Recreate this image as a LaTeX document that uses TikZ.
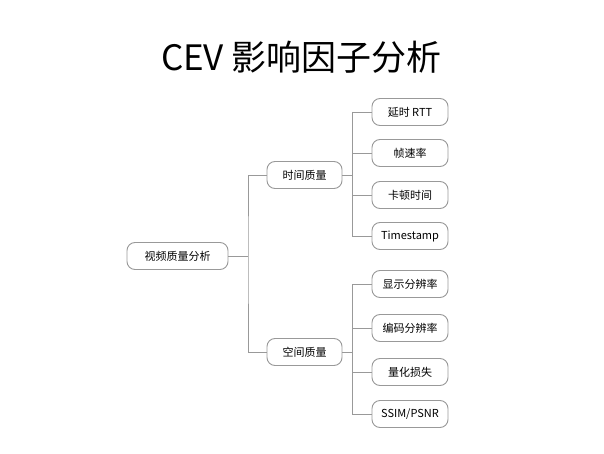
\documentclass[tikz,border=0pt]{standalone}
\usepackage{fontspec}
\setmainfont{Noto Sans CJK SC}
\begin{document}
\begin{tikzpicture}[x=1pt,y=-1pt,
  box/.style={draw=gray!80, line width=0.9pt, rounded corners=8pt, fill=white, minimum height=27pt, inner sep=0pt, font=\fontsize{11}{13}\selectfont},
  rootbox/.style={box, minimum width=101pt},
  midbox/.style={box, minimum width=75pt},
  leafbox/.style={box, minimum width=76pt},
  conn/.style={draw=gray!80, line width=0.9pt}]
\useasboundingbox (0,0) rectangle (604,454);
\node (title) at (301.5,57) {\fontsize{35}{41}\selectfont CEV 影响因子分析};
\node[rootbox] (root) at (177.5,256) {视频质量分析};
\node[midbox] (time) at (304.5,175) {时间质量};
\node[midbox] (space) at (304.5,352) {空间质量};
\node[leafbox] (l1) at (410,112) {延时 RTT};
\node[leafbox] (l2) at (410,153) {帧速率};
\node[leafbox] (l3) at (410,195) {卡顿时间};
\node[leafbox] (l4) at (410,236) {Timestamp};
\node[leafbox] (l5) at (410,284) {显示分辨率};
\node[leafbox] (l6) at (410,328) {编码分辨率};
\node[leafbox] (l7) at (410,372) {量化损失};
\node[leafbox] (l8) at (410,414) {SSIM/PSNR};
\coordinate (t0) at (248,256);
\coordinate (t1) at (352,0);
\path[conn] (root.east) -- (t0);
\path[conn] (time.west) -| (t0) |- (space.west);
\path[conn] (time.east) -- (time.east -| t1);
\path[conn] (space.east) -- (space.east -| t1);
\foreach \n in {l1,l2,l3,l4,l5,l6,l7,l8}{\path[conn] (\n.west) -- (\n.west -| t1);}
\path[conn] (l1.west -| t1) -- (l4.west -| t1);
\path[conn] (l5.west -| t1) -- (l8.west -| t1);
\end{tikzpicture}
\end{document}
